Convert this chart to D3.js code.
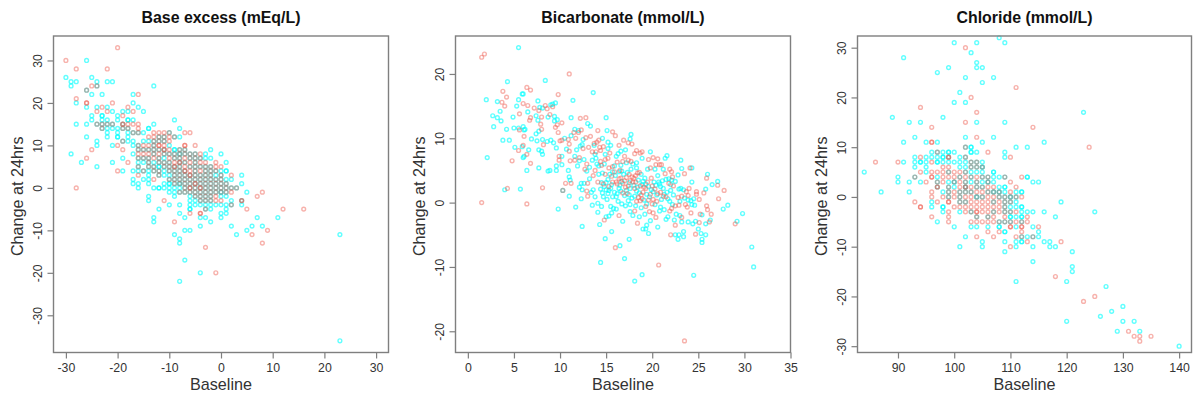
<!DOCTYPE html>
<html>
<head>
<meta charset="utf-8">
<script src="https://cdnjs.cloudflare.com/ajax/libs/d3/7.8.5/d3.min.js"></script>
<style>
body { margin: 0; background: #fff; }
text { font-family: "Liberation Sans", Arial, sans-serif; }
</style>
</head>
<body>
<div id="container"></div>
<script>
// titles and tick labels
var titles = ["Base excess (mEq/L)", "Bicarbonate (mmol/L)", "Chloride (mmol/L)"];
var baseExcessXTicks = [-30, -20, -10, 0, 10, 20, 30];
var baseExcessYTicks = [-30, -20, -10, 0, 10, 20, 30];
var bicarbXTicks = [0, 5, 10, 15, 20, 25, 30, 35];
var bicarbYTicks = [-20, -10, 0, 10, 20];
var chlorideXTicks = [90, 100, 110, 120, 130, 140];
var chlorideYTicks = [-30, -20, -10, 0, 10, 20, 30];

// base excess: [baseline, [changes]] per integer baseline
var baseExcessRed = [
	[-30, [30]], [-28, [28, 21, 0]], [-26, [23, 20, 20, 7]], [-25, [24, 9]], [-24, [24, 18, 15]],
	[-23, [19, 15, 14]], [-22, [28, 18, 15]], [-21, [20, 15]], [-20, [33, 10, 4]],
	[-19, [17, 15, 15, 14, 11, 9]], [-18, [19, 15, 14, 6]], [-17, [18, 15, 13]],
	[-16, [22, 15, 14, 13, 10, 9, 8, 7, 5, 3]], [-15, [10, 9, 8, 7, 4]],
	[-14, [12, 10, 9, 8, 7, 6, 5]], [-13, [13, 12, 11, 10, 9, 8, 7, 5, 4, 2]],
	[-12, [13, 12, 11, 10, 10, 9, 8, 7, 6, 4, 3]], [-11, [13, 12, 11, 10, 9, 9, 8, 6, 5, -3]],
	[-10, [13, 12, 11, 9, 8, 7, 6, 5, 4, 2]], [-9, [12, 8, 7, 6, 5, 5, 4, 3, 2, 1, -8]],
	[-8, [9, 8, 7, 6, 6, 5, 4, 3, 2, 1, -1]], [-7, [13, 10, 10, 9, 8, 7, 6, 5, 4, 4, 3, 2, 1, 0, -1]],
	[-6, [13, 8, 7, 6, 5, 4, 3, 3, 2, 1, 0, 0, -1, -6]], [-5, [10, 8, 7, 6, 5, 4, 3, 2, 1, 1, 0, -1, -2]],
	[-4, [8, 7, 6, 5, 4, 3, 2, 1, 0, 0, -1, -2, -3, -6, -6]], [-3, [6, 5, 4, 3, 2, 1, 0, -1, -2, -3, -5, -14]],
	[-2, [5, 4, 3, 2, 1, 0, -1, -2, -3]], [-1, [6, 5, 4, 2, 1, 0, -1, -2, -3, -20]],
	[0, [5, 3, 2, 1, 0, -1, -3]], [1, [1, 0, -1]], [2, [3, 0, -1, -4]], [3, [0]], [4, [-3, -3]],
	[5, [-5]], [6, [-11]], [7, [-2]], [8, [-1, -13]], [9, [-10]], [12, [-5]], [16, [-5]]
];
var baseExcessCyan = [
	[-30, [26]], [-29, [25, 24, 8]], [-28, [25, 20, 15]], [-27, [6]], [-26, [30, 23, 19, 15, 12]],
	[-25, [26, 22, 17, 16]], [-24, [25, 24, 19, 15, 11, 10, 5]], [-23, [22, 17, 17, 16, 15, 14]],
	[-22, [25, 19, 16, 15, 14, 13, 12]], [-21, [25, 18, 15, 14, 10, 6]], [-20, [17, 16, 14, 13, 12, 12]],
	[-19, [18, 15, 14, 11, 7, 4]], [-18, [18, 16, 16, 14, 13, 12, 11]],
	[-17, [22, 20, 16, 13, 11, 10, 8, 4, 2, 1]], [-16, [19, 13, 10, 9, 7, 6, 5, 4, 1, 0]],
	[-15, [18, 13, 11, 9, 7, 6, 4, 2]], [-14, [14, 14, 11, 9, 7, 6, 5, 4, 3, 2, 1, -2, -3]],
	[-13, [24, 15, 11, 10, 9, 8, 6, 5, 4, 0, -7, -8]], [-12, [12, 11, 9, 7, 6, 5, 5, 4, 3, 0, 0, -5]],
	[-11, [12, 11, 9, 8, 7, 6, 5, 4, 3, 1, 0]], [-10, [13, 10, 8, 6, 5, 4, 3, 2, 1, 1, 0, -1, -4]],
	[-9, [16, 12, 9, 9, 8, 7, 5, 4, 3, 2, 1, 0, -1, -2, -11]],
	[-8, [14, 12, 9, 8, 8, 7, 6, 5, 4, 3, 2, 1, 1, 0, -1, -4, -6, -12, -13, -22]],
	[-7, [9, 8, 6, 4, 3, 2, 1, 0, -1, -7, -10, -17]],
	[-6, [8, 7, 5, 3, 2, 1, 0, -1, -2, -3, -4, -5, -5, -10]],
	[-5, [8, 7, 6, 5, 4, 3, 2, 1, 0, -1, -2, -3, -4]],
	[-4, [7, 5, 3, 2, 1, 0, -1, -2, -3, -4, -7, -9, -20]],
	[-3, [8, 7, 5, 4, 3, 2, 1, 0, -1, -2, -3, -4, -5, -7]],
	[-2, [9, 7, 5, 4, 3, 2, 1, 0, -1, -2, -3, -4, -5, -8]], [-1, [4, 3, 2, 1, 0, -1, -4]],
	[0, [8, 4, 3, 2, 1, 0, -1, -1, -2, -4, -6, -7]], [1, [6, 4, 4, 2, 1, 0, -1, -2, -4, -5, -6]],
	[2, [2, 0, -3, -4, -9]], [3, [0, -11]], [4, [3, 1, -3, -4]], [5, [-1, -10]], [6, [-9]],
	[7, [-7]], [8, [-9]], [11, [-7]], [23, [-11, -36]]
];

// bicarbonate: [baseline, change]
var bicarbRed = [
	[1.5, 22.6], [1.8, 23.1], [11, 20], [9.8, 16.8], [3.8, 17.3], [4.2, 16.4], [3.7, 15.6], [4, 15],
	[6.4, 17.9], [6.8, 17.5], [6, 15.4], [6.5, 15.1], [5.6, 13.8], [7.2, 14.7], [7.7, 14.3], [8.4, 15.1],
	[8.6, 14.6], [9.2, 14.9], [8.9, 13.7], [6.8, 13.2], [6.7, 12.8], [8, 13.3], [7.9, 12.2], [8, 11.4],
	[5.6, 11.3], [6.1, 10.3], [9.5, 11.7], [9.7, 12.1], [9.8, 10.9], [10.2, 12.4], [27.8, 1.9], [27.1, 2.7],
	[27.2, 0.6], [25.9, 3.8], [25.6, 1.5], [24.8, 1.7], [24.8, 1.3], [24.1, 5.4], [23.5, 4.5], [25.1, 0.5],
	[25.9, -0.5], [26, -1.1], [26.4, -1.8], [26.2, -3], [25.2, -1.8], [25.1, -3.1], [24.7, -4.9], [24.2, -1.6],
	[23.2, -2.3], [22.5, -3.5], [22, -5], [29, -3.3], [20.7, -9.7], [23.5, -21.5], [16, -7], [16.4, -2],
	[14.8, -2.7], [18.4, -3.2], [18.1, -1.3], [20.4, -2.3], [20.1, -1.6], [19.6, 6.7], [20.1, 7], [20.6, 6.8],
	[20.4, 5.9], [20.8, 5.9], [21, 5.9], [19.8, 5.4], [18.9, 7.9], [18.3, 8.1], [18.1, 7.6], [18.7, 7.7],
	[17.8, 9.1], [17.4, 9.3], [16.9, 9.7], [15.7, 11], [16, 10.4], [16.4, 8.9], [14.1, 11.2], [13.3, 10.3],
	[12.8, 13.2], [12.2, 13.1], [12.3, 11.3], [11.5, 10.9], [12, 10.9], [11.7, 10], [12.8, 10.1], [10.9, 9.8],
	[10, 9.6], [10.2, 9.7], [11, 9.1], [14.2, 9.7], [14, 9.4], [13.7, 9.2], [14.3, 8.6], [13.1, 8.6],
	[12.5, 8.4], [13.5, 7.9], [14.7, 8.7], [14.4, 8.1], [11.1, 6.5], [11.6, 6.6], [10.6, 3], [11.2, 3],
	[10.3, 1.9], [8.1, 2.3], [4.3, 2.2], [1.5, 0], [6.4, -0.2], [4.8, 6.5], [6.8, 6.1], [6.4, 7.5],
	[6, 8.9], [5.5, 8.1], [8.2, 9], [9.9, 7.2], [9.9, 6.6], [11, 8], [12.1, 7], [12.9, 6], [12.7, 5.2],
	[13, 3], [12.9, 1.8], [13, 1], [13.6, 4.2], [13.8, 5], [14.1, 3.2], [14.5, 5.8], [14.9, 6.7],
	[15.2, 6.9], [15.4, 7.7], [15.3, 5.4], [15.7, 5.6], [15.9, 4.8], [16.2, 6.3], [16.5, 5], [16.8, 6.4],
	[17, 7.2], [17.4, 6.6], [17.7, 6.4], [16.1, 3.2], [16.4, 3.7], [16.8, 3], [17, 3.4], [17.2, 3.9],
	[17.4, 2.6], [17.6, 3.4], [17.8, 4], [18, 3.8], [18.2, 3.2], [18.4, 4.6], [18.6, 4.7], [18.1, 2.2],
	[18.5, 0.8], [18.7, 0.3], [18.9, 0.6], [18.3, 0.2], [19, 1.6], [19.3, 2.2], [19.5, 3.2], [19.9, 3.8],
	[20, 2.6], [20.3, 2.1], [19.8, 1.3], [20.1, 0.5], [20.5, 0.2], [20.9, 1.6], [21.2, 1], [21.5, 0.9],
	[21.8, 3], [22.2, 4], [22.1, 4.8], [21.4, 4.5], [21.9, 5.2], [22.3, 2.6], [22.8, 0.8], [23.2, 1],
	[23.9, 1.1], [23.7, 1.7], [24, 2.2], [23.8, -0.7], [23.6, -0.3], [22.9, -0.4], [22.5, -0.5], [22.1, -0.9],
	[21.9, -1.3], [19.3, -0.6], [19.7, -1.4], [20, -0.2], [15.7, 3.2], [15.3, 2.5], [14.7, 2.9], [16.8, 1.5],
	[17.3, 1.4], [14.9, 4.4], [13.9, 7.9], [17.9, 3.2], [18.2, 4.2], [17.5, 4.4], [18.7, 2.6], [19.1, 2.4],
	[16.6, 3.8], [19.6, 0.4], [20.6, 1.4], [18.8, 1.2], [17.1, 2.4], [16.2, 2.9], [15.6, 4.1], [14.4, 6.4]
];
var bicarbCyan = [
	[5.5, 24.1], [8.4, 19], [4.3, 18.8], [13.6, 17.1], [2, 16], [3.2, 15.7], [5.5, 16], [5.9, 16.9], [6, 16.9],
	[11.4, 15.9], [7.6, 15.8], [5.3, 15], [3.5, 14.2], [6.5, 14.1], [2.7, 13.5], [3.2, 13.2], [3.6, 12.7],
	[4.9, 13.3], [8.1, 14.7], [7.8, 14.8], [9, 15.2], [9.2, 15.3], [9.5, 15.5], [7.4, 13.5], [7.6, 12.8],
	[8.7, 13.3], [9.4, 13.4], [9.7, 12.9], [9.4, 12.7], [11.2, 13.2], [15, 13.2], [13, 12.3], [13.3, 11.9],
	[2.8, 11.8], [4.2, 11.4], [5, 11.6], [5.5, 11.6], [6, 11.8], [6.1, 11.3], [6.2, 11.4], [7.7, 11.1],
	[7.4, 10.7], [6.9, 9.9], [3.8, 9.7], [4.5, 9.7], [5.1, 8.6], [8.1, 9.8], [7.5, 9.6], [8.6, 9.5], [9, 9.7],
	[9.3, 9.3], [9.6, 8.5], [5.9, 8.7], [6.6, 8.2], [7.7, 8.2], [8, 8], [8.1, 7.5], [2.1, 7], [6, 7], [6.1, 7.2],
	[6.4, 5], [7.7, 5.4], [8.7, 4.9], [8.9, 5], [9.6, 5.7], [9.6, 5], [10.2, 5.9], [5.7, 2.1], [4, 2], [9.8, -1],
	[11.7, -0.7], [11, 1], [10.3, 1.9], [30.8, -6.9], [31, -10], [29.8, -1.7], [29.2, -2.9], [28.2, -0.4],
	[27.7, -1], [27.1, 3.3], [26.5, 2.8], [26, 4.4], [25.8, 2.1], [24.3, 5.4], [24.3, 3.2], [23.1, 6.6],
	[23.2, 5.3], [22.8, 4.3], [23.1, 2.2], [21.6, 7.3], [21.4, 6.9], [19.8, 7.9], [17.6, 9.9], [17.7, 10.6],
	[15.1, 11.2], [25.4, -1.9], [26.3, -2.7], [25.8, -3.3], [25.3, -4.8], [25.8, -5], [25.4, -5.7], [25.4, -6.2],
	[25, -4.1], [24.7, -2.9], [24.4, -3.3], [23.4, -4.5], [23.4, -5.3], [22.9, -5], [22.5, -5], [22.8, -5.7],
	[24.5, -11.3], [18.9, -11.2], [18.1, -12.2], [17, -8.7], [14.4, -9.3], [16.5, -6.7], [14.9, -5.6], [17.5, -5.7],
	[15.6, -4.5], [19.6, -4.8], [12.4, -3.7], [14.3, -3.4], [16.8, -2.9], [19, -4.1], [19.3, -4.1], [19.4, -3.5],
	[20.6, -3.8], [19.8, -2.8], [14.1, -1.5], [13.5, -0.4], [12.3, 0.6], [10.9, 5], [11, 4], [11.1, 3.5],
	[10.7, 8.3], [10.2, 7.2], [10.5, 10], [11.2, 10.4], [11.6, 11.4], [12, 11.2], [12.5, 9.8], [12.2, 8.8],
	[12.4, 9], [11.6, 7.2], [11.8, 8.2], [12.1, 6.5], [12.6, 6.7], [12.3, 3], [12.6, 3], [12.4, 2], [12.1, 2.4],
	[11.9, 5.7], [12.9, 4.9], [13.2, 5.5], [13.5, 6.6], [13.9, 6.9], [14, 6], [13.8, 7.5], [13.7, 8.9], [14.6, 10],
	[15.2, 9.4], [15.5, 8.9], [14.2, 4.4], [13.6, 2], [14.5, 3.1], [14.8, 2.5], [15, 2], [15.2, 1.4], [14.6, 1.5],
	[15.1, 0.5], [15.7, 0.9], [15.5, -0.6], [15.8, -0.9], [16.1, -1], [15, -2.2], [15.3, -2.1], [15.6, -1.6],
	[16.3, 0.2], [16.7, -0.2], [17.1, -0.5], [17.6, -0.3], [18.2, -0.5], [17.6, -1.4], [17.9, -2], [18.6, -2.2],
	[18.8, -0.8], [19.4, -0.2], [20.3, -0.3], [20.9, -0.7], [21.3, -1.1], [21.5, -2.6], [21.7, -2.2], [22.4, -2.7],
	[23, -2], [23.2, -3], [23.9, -3], [22.6, -1.8], [15.4, 4.4], [15.7, 4.8], [16, 4.2], [15.2, 3.6], [14.8, 6],
	[14.9, 7.5], [15.2, 8.4], [16.1, 7.2], [16.3, 7.6], [16.6, 8], [17.1, 8.2], [17.2, 6.2], [16.6, 5.8], [17.9, 6],
	[18.3, 6.2], [18.9, 6.9], [19.5, 5.2], [20.3, 5.2], [21.2, 5.2], [20.6, 4.2], [21.5, 3.6], [21.8, 3.7], [22.1, 3.5],
	[20.7, 3.2], [20.9, 2.5], [21.2, 2.2], [21.6, 1.6], [22, 1.9], [22.3, 1.2], [22.9, 2.1], [23.4, 2], [24.2, 0.3],
	[24.5, 0.6], [24.6, -0.4], [24.3, -0.3], [17.3, 4.7], [17.7, 5.2], [18.3, 5.4], [18.8, 4.4], [19.2, 3.8], [18.9, 2.8],
	[18.1, 1], [17.4, 0.3], [16.6, 1.8], [16.4, 2.2], [15.6, 2.8], [16.9, 4.4], [19.1, 0.4], [19.7, 0.9], [20.5, 1.2],
	[21, 0.5], [21.9, 0.2], [22.2, -0.3], [19.9, 2], [20.2, 3.2], [19.3, 2.9], [18.5, 3.5], [18.3, 1.8], [17.6, 2.2],
	[14.2, 5.7], [14.4, 2.1], [14.7, 0.9], [15, 3.1], [15.3, 1.9], [15.5, 2.2], [15.9, 1.6], [16.1, 0.9], [16.2, 1.4],
	[16.5, 2.7], [16.7, 3.3], [17, 1.1], [17.2, 1.9], [17.5, 1.2], [17.8, 0.7], [18, 2.7], [18.4, 2.4], [18.6, 1.5],
	[19, 3.3], [19.4, 1.3], [19.6, 2.5], [20.1, 1.7], [20.4, 2.7], [20.8, 2.9], [21.1, 3.4], [21.3, 1.3], [21.7, 0.6],
	[22, 2.8], [22.5, 3.3], [23, 0.2], [23.5, 0.7], [23.9, 0.4], [15.9, 5.7], [16.4, 4.8], [16.7, 4.9], [17.5, 3.1],
	[14.6, 4.6], [13.2, 3.7], [13.4, 1.6], [13.8, 0.9], [14.1, -0.1], [14.5, -0.6], [20.8, -1.3], [19.2, -1.8]
];

// chloride: [baseline, [changes]] per integer baseline
var chlorideRed = [
	[86, [7]], [90, [7]], [93, [4, -1]], [94, [18, 8, 5, -2, -2]], [95, [3]],
	[96, [14, 11, 11, 7, 5, 4, 4, 1, 0, -4]], [97, [9, 5, 3, 2, 2, -1]], [98, [6, 5, 4, 3, 0]],
	[99, [8, 8, 6, 5, 4, 2, 1, 0, -1, -1, -3, -4, -5]], [100, [5, 4, 3, 1, 0, -2]],
	[101, [5, 4, 3, 2, 1, 0, -1, -2]], [102, [30, 15, 10, 8, 5, 4, 3, 2, 2, 1, 0, -1, -2, -3]],
	[103, [20, 7, 6, 4, 2, 1, 0, -1, -2, -3, -5]], [104, [17, 12, 7, 6, 4, 3, 2, 1, 0, -1, -2, -3, -3, -4, -5, -8]],
	[105, [6, 4, 2, 1, 0, -1, -2, -3, -5]], [106, [9, 4, 3, 2, 1, 0, -1, -2, -3, -4, -5, -7]],
	[107, [2, 1, 0, -1, -2, -3, -4, -5, -8]], [108, [1, 0, -1, -2, -3, -5, -7]],
	[109, [4, 0, -1, -2, -3, -4, -5]], [110, [8, 3, 1, 0, -1, -3, -5, -6, -6, -10]],
	[111, [22, 2, 0, -3, -5, -8]], [112, [4, 0, -5, -6, -6, -7, -8]], [113, [-4, -5, -9]], [114, [14, -8]],
	[115, [-6]], [118, [-16]], [119, [-9]], [123, [-21]], [124, [10]], [125, [-20]], [131, [-27]], [132, [-28]],
	[133, [-28, -29]], [135, [-28]]
];
var chlorideCyan = [
	[84, [5]], [87, [1]], [89, [16]], [90, [4, 3]], [91, [28, 11, 7]], [92, [15, 3, 1]],
	[93, [12, 8, 7, 6, 4]], [94, [15, 7, 7, 3]], [95, [11, 8, 7, 6, 5]], [96, [9, 8, -1, -2]],
	[97, [25, 11, 9, 8, 7, 7, 4, 3, 2, -5]], [98, [16, 9, 8, 8, 7, 1, -2, -2, -3]], [99, [26, 9, 9, 8, 7, 5, 3, 2, 1, 0]],
	[100, [31, 19, 9, 7, 3, 3, 2, -6]], [101, [21, 8, 7, 6, 4, 1, 0, -1, -3, -10]],
	[102, [24, 19, 12, 10, 8, 7, 6, 5, 3, 2, 2, 1, -1, -8]], [103, [29, 10, 10, 9, 9, 7, 6, 5, 4, 3, 1, -3, -6]],
	[104, [31, 27, 26, 15, 9, 7, 6, 5, 3, 2, 0, 0, -4, -6]], [105, [26, 23, 11, 7, 6, 6, 5, 4, 3, 2, 0, -9, -10]],
	[106, [4, 3, 3, 1, -4, -6]], [107, [24, 12, 5, 5, 4, 3, 1, 1, -1, -3]], [108, [32, 4, 2, 1, 1, 0, -5, -6, -6]],
	[109, [31, 15, 9, 8, 4, 2, 2, 1, 0, -1, -2, -3, -5, -7, -7, -9, -11]], [110, [0, 0, -1, -2, -3, -4, -4, -5]],
	[111, [10, 1, 0, -1, -2, -4, -6, -9, -10, -17]], [112, [1, 1, -2, -2, -3, -4, -4, -5, -8, -9, -9]],
	[113, [10, 4, 4, -3, -8]], [114, [3, -3, -6, -8, -10, -13]], [115, [3, -7, -8]], [116, [11, -3, -9]],
	[117, [-9, -10]], [118, [-4, -10]], [119, [-1]], [120, [-17, -25]], [121, [-11, -14, -15]], [123, [17]],
	[125, [-3]], [126, [-24]], [127, [-18]], [128, [-23]], [129, [-27]], [130, [-22, -25]], [132, [-25]],
	[133, [-27]], [140, [-30]]
];

// turn the per-baseline columns into plain pairs
function fromColumns(cols) {
	return cols.flatMap(function(c) {
		return c[1].map(function(v) { return [c[0], v]; });
	});
}

var redColor = "rgba(238,85,70,0.45)";
var cyanColor = "rgba(0,255,255,0.62)";

var panels = [
	{title: titles[0], xDomain: [-32.4, 32.4], yDomain: [-38.76, 35.76],
		box: {left: 53.5, right: 388.5, top: 36, bottom: 352.5},
		xTicks: baseExcessXTicks, yTicks: baseExcessYTicks,
		red: fromColumns(baseExcessRed), cyan: fromColumns(baseExcessCyan)},
	{title: titles[1], xDomain: [-1.34, 35], yDomain: [-23.3, 25.9],
		box: {left: 455.5, right: 790.5, top: 36, bottom: 352.5},
		xTicks: bicarbXTicks, yTicks: bicarbYTicks,
		red: bicarbRed, cyan: bicarbCyan},
	{title: titles[2], xDomain: [82.8, 142.2], yDomain: [-31.27, 32.35],
		box: {left: 857.5, right: 1191.5, top: 36, bottom: 352.5},
		xTicks: chlorideXTicks, yTicks: chlorideYTicks,
		red: fromColumns(chlorideRed), cyan: fromColumns(chlorideCyan)}
];

var svg = d3.select("#container").append("svg")
	.attr("width", 1195)
	.attr("height", 399)
	.style("display", "block");

panels.forEach(drawPanel);

function drawPanel(p) {
	var b = p.box;
	var x = d3.scaleLinear().domain(p.xDomain).range([b.left, b.right]);
	var y = d3.scaleLinear().domain(p.yDomain).range([b.bottom, b.top]);

	var g = svg.append("g");

	// cyan first, red over it so that overlaps go grey
	g.append("g").selectAll("circle")
		.data(p.cyan).enter()
		.append("circle")
			.attr("cx", function(d) { return x(d[0]); })
			.attr("cy", function(d) { return y(d[1]); })
			.attr("r", 1.9)
			.style("fill", "none")
			.style("stroke", cyanColor)
			.style("stroke-width", 1.4);

	g.append("g").selectAll("circle")
		.data(p.red).enter()
		.append("circle")
			.attr("cx", function(d) { return x(d[0]); })
			.attr("cy", function(d) { return y(d[1]); })
			.attr("r", 1.9)
			.style("fill", "none")
			.style("stroke", redColor)
			.style("stroke-width", 1.4);

	g.append("rect")
		.attr("x", b.left)
		.attr("y", b.top)
		.attr("width", b.right - b.left)
		.attr("height", b.bottom - b.top)
		.style("fill", "none")
		.style("stroke", "#7f7f7f")
		.style("stroke-width", 1.4);

	var xAxis = g.append("g")
		.attr("transform", "translate(0," + b.bottom + ")")
		.call(d3.axisBottom(x).tickValues(p.xTicks).tickFormat(String).tickSizeOuter(0).tickSize(6).tickPadding(5));
	var yAxis = g.append("g")
		.attr("transform", "translate(" + b.left + ",0)")
		.call(d3.axisLeft(y).tickValues(p.yTicks).tickFormat(String).tickSizeOuter(0).tickSize(6).tickPadding(5));

	g.selectAll(".domain").remove();
	g.selectAll(".tick line").style("stroke", "#7f7f7f").style("stroke-width", 1.2);
	g.selectAll(".tick text")
		.style("font-size", "12.3px")
		.style("font-family", '"Liberation Sans", Arial, sans-serif')
		.style("fill", "#333");

	// R style: y tick labels run along the axis
	yAxis.selectAll(".tick text")
		.attr("transform", "rotate(-90)")
		.attr("x", 0)
		.attr("y", -11.5)
		.attr("dy", 0)
		.style("text-anchor", "middle");

	var cx = (b.left + b.right) / 2;

	g.append("text")
		.attr("x", cx)
		.attr("y", 23)
		.style("text-anchor", "middle")
		.style("font-size", "15.9px")
		.style("font-weight", "bold")
		.style("fill", "#111")
		.text(p.title);

	g.append("text")
		.attr("x", cx)
		.attr("y", 390)
		.style("text-anchor", "middle")
		.style("font-size", "16.2px")
		.style("fill", "#333")
		.text("Baseline");

	g.append("text")
		.attr("transform", "translate(" + (b.left - 31) + "," + ((b.top + b.bottom) / 2 + 2) + ") rotate(-90)")
		.style("text-anchor", "middle")
		.style("font-size", "16.2px")
		.style("fill", "#333")
		.text("Change at 24hrs");
}
</script>
</body>
</html>
